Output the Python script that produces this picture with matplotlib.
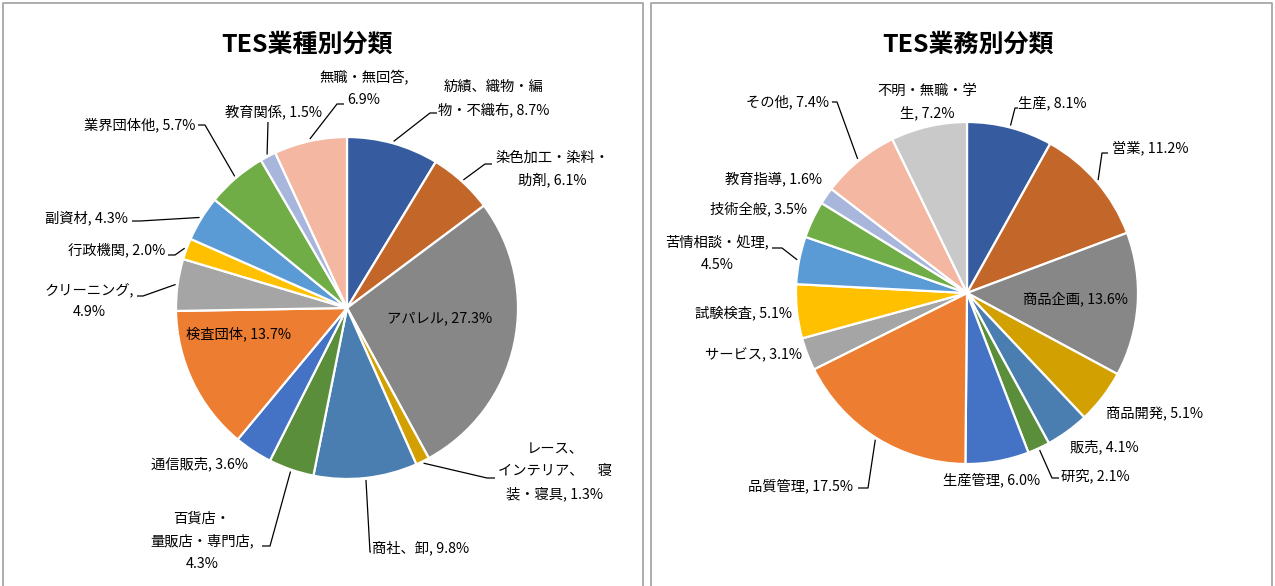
import numpy as np
import matplotlib
matplotlib.use("Agg")
import matplotlib.pyplot as plt

plt.rcParams['font.family'] = ['Noto Sans CJK JP', 'DejaVu Sans']

W, H = 1275, 586

# ---------------- data ----------------
left_title = "TES業種別分類"
left_categories = ["紡績、織物・編物・不織布", "染色加工・染料・助剤", "アパレル",
                   "レース、インテリア、　寝装・寝具", "商社、卸", "百貨店・量販店・専門店",
                   "通信販売", "検査団体", "クリーニング", "行政機関", "副資材",
                   "業界団体他", "教育関係", "無職・無回答"]
left_values = [8.7, 6.1, 27.3, 1.3, 9.8, 4.3, 3.6, 13.7, 4.9, 2.0, 4.3, 5.7, 1.5, 6.9]

right_title = "TES業務別分類"
right_categories = ["生産", "営業", "商品企画", "商品開発", "販売", "研究", "生産管理",
                    "品質管理", "サービス", "試験検査", "苦情相談・処理", "技術全般",
                    "教育指導", "その他", "不明・無職・学生"]
right_values = [8.1, 11.2, 13.6, 5.1, 4.1, 2.1, 6.0, 17.5, 3.1, 5.1, 4.5, 3.5, 1.6, 7.4, 7.2]

# ---------------- style / layout ----------------
palette = ['#365C9F', '#C3662A', '#878787', '#D2A000', '#4A7EB0', '#5A8E3A',
           '#4472C4', '#ED7D31', '#A5A5A5', '#FFC000', '#5B9BD5', '#70AD47',
           '#A8B6DC', '#F4B8A2', '#C9C9C9']

# per-slice label layout: (x, y, ha, break positions, leader [elbow, anchor] or None)
left_layout = [
    (494, 99, 'center', [7], [(430, 113), (437, 113)]),
    (552, 169, 'center', [8], [(485, 164), (492, 164)]),
    (440, 318, 'center', [], None),
    (555, 472, 'center', [4, 12], [(487, 478), (495, 478)]),
    (372, 548, 'left', [], [(370, 552), (371, 552)]),
    (202, 541, 'center', [4, 12], [(270, 546), (262, 546)]),
    (248, 464, 'right', [], None),
    (239, 334, 'center', [], None),
    (89, 301, 'center', [7], [(143, 296), (137, 296)]),
    (165, 250, 'right', [], [(175, 255), (168, 255)]),
    (128, 218, 'right', [], [(140, 221), (132, 221)]),
    (195, 125, 'right', [], [(205, 125), (198, 125)]),
    (322, 112, 'right', [], [(268, 122), (268, 122)]),
    (364, 89, 'center', [7], [(337, 104), (344, 104)]),
]
right_layout = [
    (1018, 103, 'left', [], [(1015, 108), (1018, 108)]),
    (1112, 148, 'left', [], [(1102, 153), (1108, 153)]),
    (1075, 299, 'center', [], None),
    (1106, 413, 'left', [], None),
    (1070, 447, 'left', [], None),
    (1061, 476, 'left', [], [(1052, 478), (1059, 478)]),
    (1040, 480, 'right', [], None),
    (853, 486, 'right', [], [(868, 488), (858, 488)]),
    (802, 355, 'right', [], None),
    (792, 313, 'right', [], None),
    (717, 254, 'center', [8], [(782, 248), (772, 248)]),
    (807, 209, 'right', [], None),
    (822, 179, 'right', [], None),
    (829, 102, 'right', [], [(837, 102), (832, 102)]),
    (927, 102, 'center', [7], None),
]

PIE_R = 171
pies = [
    (left_title, left_categories, left_values, (347, 308), (307, 45), left_layout),
    (right_title, right_categories, right_values, (967, 293), (968, 45), right_layout),
]

fig = plt.figure(figsize=(W / 100, H / 100), dpi=100)
ax = fig.add_axes([0, 0, 1, 1])


def Y(y):
    return H - y


def wrap(s, breaks):
    out, prev = [], 0
    for b in breaks:
        out.append(s[prev:b].strip(' '))
        prev = b
    out.append(s[prev:].strip(' '))
    return "\n".join(out)


for title, cats, vals, (cx, cy), (tx, ty), layout in pies:
    wedges, _ = ax.pie(vals, colors=palette[:len(vals)], startangle=90,
                       counterclock=False, center=(cx, Y(cy)), radius=PIE_R,
                       frame=True,
                       wedgeprops=dict(edgecolor='white', linewidth=1.6))
    ax.text(tx, Y(ty), title, ha='center', va='center', fontsize=18,
            fontweight='bold', color='black')
    for w, cat, v, (lx, ly, ha, brk, leader) in zip(wedges, cats, vals, layout):
        label = wrap(f"{cat}, {v:.1f}%", brk)
        ax.text(lx, Y(ly), label, ha=ha, va='center', multialignment='center',
                fontsize=10.3, color='black', linespacing=1.72)
        if leader is not None:
            th = np.deg2rad((w.theta1 + w.theta2) / 2)
            ex = w.center[0] + (w.r + 2) * np.cos(th)
            ey = w.center[1] + (w.r + 2) * np.sin(th)
            xs = [ex] + [p[0] for p in leader]
            ys = [ey] + [Y(p[1]) for p in leader]
            ax.plot(xs, ys, color='black', lw=0.9, solid_capstyle='butt')

# chart boxes
box_col = '#A0A0A0'
for x0, x1 in [(3, 643), (651, 1272)]:
    ax.plot([x0, x0, x1, x1], [0, Y(3), Y(3), 0], color=box_col, lw=1.2)

ax.set_xlim(0, W)
ax.set_ylim(0, H)
ax.set_aspect('auto')
ax.axis('off')

fig.savefig("out.png", dpi=100, facecolor='white')
